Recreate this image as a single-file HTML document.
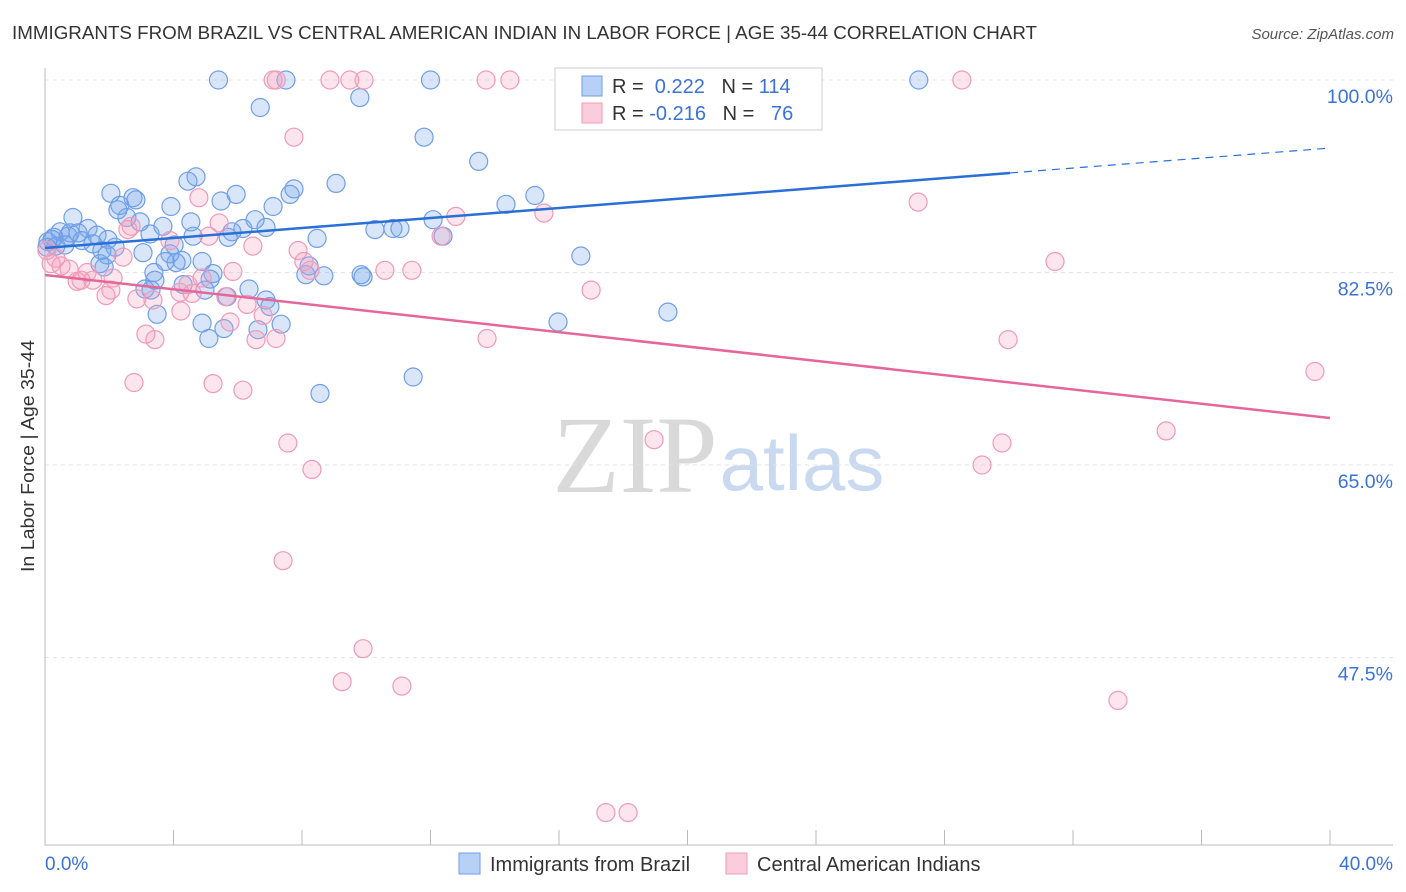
<!DOCTYPE html>
<html><head><meta charset="utf-8"><style>
body{margin:0;background:#fff;font-family:"Liberation Sans",sans-serif;}
#c{position:relative;width:1406px;height:892px;overflow:hidden}
</style></head><body>
<div id="c">
<svg id="s" width="1406" height="892" xmlns="http://www.w3.org/2000/svg">
<text x="12" y="39" font-size="18.5" fill="#333" textLength="1025" lengthAdjust="spacingAndGlyphs">IMMIGRANTS FROM BRAZIL VS CENTRAL AMERICAN INDIAN IN LABOR FORCE | AGE 35-44 CORRELATION CHART</text>
<text x="1394" y="39" font-size="15" fill="#555" font-style="italic" text-anchor="end">Source: ZipAtlas.com</text>
<text x="635" y="492" font-size="110" fill="#d9d9d9" font-family="Liberation Serif,serif" text-anchor="middle">ZIP</text>
<text x="802" y="490" font-size="78" fill="#c9d9ef" text-anchor="middle">atlas</text>
<g id="grid"></g><g id="axes"></g><g id="pts"></g><g id="lines"></g>
<text transform="translate(34,456) rotate(-90)" font-size="18" fill="#333" text-anchor="middle" textLength="232" lengthAdjust="spacingAndGlyphs">In Labor Force | Age 35-44</text>
<text x="45" y="870" font-size="19" fill="#3b72d6">0.0%</text>
<text x="1393" y="870" font-size="19" fill="#3b72d6" text-anchor="end">40.0%</text>
<g>
<rect x="555" y="68" width="267" height="62" fill="#fff" stroke="#ccc"/>
<rect x="582" y="76" width="20" height="20" fill="#b7d0f5" stroke="#6f9ee8"/>
<rect x="582" y="103" width="20" height="20" fill="#f9cddb" stroke="#ef9ab8"/>
<text x="612" y="93" font-size="20" fill="#333">R = <tspan fill="#3b72d6">&#160;0.222</tspan>&#160;&#160;&#160;N = <tspan fill="#3b72d6">114</tspan></text>
<text x="612" y="120" font-size="20" fill="#333">R = <tspan fill="#3b72d6">-0.216</tspan>&#160;&#160;&#160;N = <tspan fill="#3b72d6">&#160;&#160;76</tspan></text>
</g>
<g>
<rect x="459" y="853" width="21" height="21" fill="#b7d0f5" stroke="#6f9ee8"/>
<text x="490" y="871" font-size="20" fill="#333">Immigrants from Brazil</text>
<rect x="726" y="853" width="21" height="21" fill="#f9cddb" stroke="#ef9ab8"/>
<text x="757" y="871" font-size="20" fill="#333">Central American Indians</text>
</g>
</svg></div>
<script>
const yTicks=[100,82.5,65,47.5];
const yTickLabels=["100.0%","82.5%","65.0%","47.5%"];
const blueX=[5.4,7.5,12.0,21.0,27.2,6.7,9.8,11.8,13.5,4.7,4.45,9.06,7.75,7.63,2.05,5.95,15.25,2.74,2.83,5.48,2.33,2.27,3.92,7.1,14.35,0.87,2.55,2.96,12.08,6.54,4.54,3.67,6.16,6.88,5.82,5.7,10.27,10.83,11.05,0.47,1.34,0.78,1.03,1.62,1.96,0.28,0.72,1.15,1.49,0.22,0.34,0.09,0.62,4.02,3.27,4.61,8.47,12.39,2.18,1.77,3.05,3.89,1.93,16.68,1.71,4.26,4.08,4.89,8.22,8.12,8.68,5.23,5.14,9.84,9.9,3.42,4.3,4.98,3.11,3.3,6.35,5.67,6.88,7.0,3.49,4.89,5.57,6.63,7.35,5.1,15.97,19.39,11.46,8.56,1.84,3.74,3.39,0.06];
const blueY=[100,100,100,100,100,97.5,98.4,94.8,92.6,91.2,90.8,90.6,90.1,89.6,89.7,89.6,89.5,89.3,89.1,89.0,88.6,88.2,88.5,88.5,88.7,87.5,87.5,87.1,87.3,87.3,87.1,86.7,86.5,86.6,86.2,85.7,86.4,86.5,86.5,86.2,86.5,86.1,86.1,85.9,85.5,85.7,85.8,85.4,85.1,85.5,84.9,85.3,85.0,85.0,86.0,85.8,85.6,85.8,84.8,84.5,84.3,84.2,84.1,84.0,83.3,83.6,83.4,83.5,83.1,82.3,82.2,82.4,81.9,82.3,82.1,81.8,81.4,80.9,81.0,80.9,81.0,80.3,80.0,79.4,78.7,77.9,77.4,77.3,77.8,76.5,78.0,78.9,73.0,71.5,83.0,83.5,82.5,84.8];
const pinkX=[7.2,7.1,8.87,9.49,9.93,13.73,14.47,28.54,7.75,4.79,27.18,12.79,15.53,5.42,6.47,2.68,2.58,5.1,12.33,3.89,7.88,0.06,0.34,0.19,0.5,0.75,1.31,8.06,8.25,2.43,5.85,31.44,10.58,11.42,1.0,1.12,1.49,2.12,4.45,4.89,4.2,4.58,2.05,1.9,5.63,6.29,2.86,3.36,6.79,4.23,5.76,3.14,3.42,6.57,7.19,17.0,13.76,29.98,39.53,2.77,5.23,6.16,34.9,7.56,18.96,29.79,8.31,29.17,7.41,9.9,9.25,11.11,33.4,17.46,18.15];
const pinkY=[100,100,100,100,100,100,100,100,94.8,89.3,88.9,87.6,87.9,87.0,84.9,86.7,86.4,85.8,85.8,85.4,84.5,84.5,83.8,83.3,83.1,82.8,82.5,83.5,82.7,83.9,82.6,83.5,82.7,82.7,81.7,81.8,81.8,82.0,81.4,82.0,80.7,80.6,80.9,80.4,80.3,79.6,80.1,80.0,78.6,79.0,78.0,76.9,76.4,76.4,76.5,80.9,76.5,76.4,73.5,72.5,72.4,71.8,68.1,67.0,67.3,67.0,64.6,65.0,56.3,48.3,45.3,44.9,43.6,33.4,33.4];
const blueTrend=[84.73,91.55];
const pinkTrend=[82.27,69.27];
const NS="http://www.w3.org/2000/svg";
const xS=v=>45+v*32.125, yS=v=>80+(100-v)*11;
function mk(t,a,p){const e=document.createElementNS(NS,t);for(const k in a)e.setAttribute(k,a[k]);p.appendChild(e);return e;}
const grid=document.getElementById('grid'),axes=document.getElementById('axes'),pts=document.getElementById('pts'),lines=document.getElementById('lines');
yTicks.forEach((t,i)=>{
 const l=mk('line',{x1:45,x2:1393,y1:yS(t),y2:yS(t),stroke:'#e3e3e3','stroke-dasharray':'4,4'},grid);
 
 
 const tx=mk('text',{x:1393,y:yS(t)+23,'font-size':19.5,fill:'#3b72d6','text-anchor':'end'},grid);
 tx.textContent=yTickLabels[i];
 
 
});
const ax=mk('path',{d:'M45,68 V845 H1393',stroke:'#bbb',fill:'none'},axes);


for(let i=0;i<=10;i++){
 const t=mk('line',{x1:xS(i*4),x2:xS(i*4),y1:830,y2:845,stroke:'#bbb'},axes);
 
 
}
function dots(X,Y,fill,stroke,name){X.forEach((x,i)=>{
 const c=mk('circle',{cx:xS(x),cy:yS(Y[i]),r:9,fill:fill,stroke:stroke,'stroke-width':1.2},pts);
 
 
});}
dots(blueX,blueY,'rgba(120,165,235,0.28)','#6f9ee8','brazil-point');
dots(pinkX,pinkY,'rgba(245,160,190,0.28)','#ef9ab8','central-american-point');
const bAt=x=>blueTrend[0]+(blueTrend[1]-blueTrend[0])*x/30.04;
let e=mk('line',{x1:xS(0),y1:yS(bAt(0)),x2:xS(30.04),y2:yS(bAt(30.04)),stroke:'#2a6fd6','stroke-width':2.5},lines);


e=mk('line',{x1:xS(30.04),y1:yS(bAt(30.04)),x2:xS(40),y2:yS(bAt(40)),stroke:'#2a6fd6','stroke-width':1.2,'stroke-dasharray':'8,6'},lines);


e=mk('line',{x1:xS(0),y1:yS(pinkTrend[0]),x2:xS(40),y2:yS(pinkTrend[1]),stroke:'#e5679a','stroke-width':2.5},lines);


</script>
</body></html>
